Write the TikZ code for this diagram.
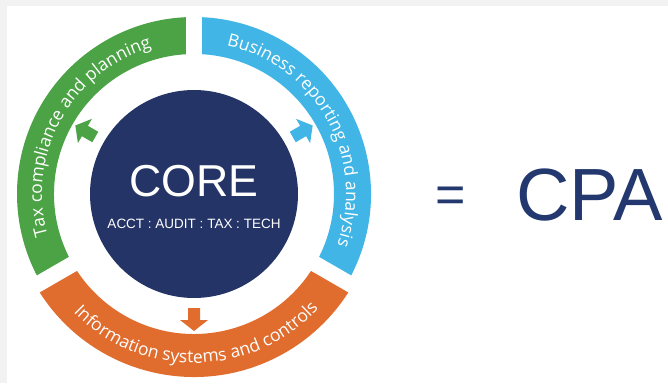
\documentclass[tikz,border=0pt]{standalone}
\usepackage{fontspec}
\setmainfont{Liberation Sans}
\newfontfamily\arcfam{Open Sans}
\usetikzlibrary{decorations.text}
\definecolor{cgreen}{HTML}{4CA346}
\definecolor{cblue}{HTML}{41B6E6}
\definecolor{corange}{HTML}{E06C2E}
\definecolor{cnavy}{HTML}{243467}
\definecolor{cpanavy}{HTML}{23386E}
\definecolor{bggray}{HTML}{F2F2F2}
\newcommand\arcfont{\arcfam\fontsize{17.5}{17.5}\selectfont}
\tikzset{
  blockarrow/.pic={\fill (-12,-6) -- (0,-6) -- (0,-14) -- (11,0) -- (0,14) -- (0,6) -- (-12,6) -- cycle;},
  arctext/.style={decorate, decoration={text along path, text align=center, text color=white}},
  gapline/.style={white, line width=16pt}
}
\begin{document}
\begin{tikzpicture}[x=1pt,y=1pt]
\useasboundingbox (0,0) rectangle (668,383);
\fill[bggray] (0,0) rectangle (668,383);
\fill[white] (7,0) rectangle (668,377);
\begin{scope}[shift={(194,189)}]
  % ring segments
  \fill[cgreen] (90:177) arc[start angle=90,end angle=210,radius=177] -- (210:140) arc[start angle=210,end angle=90,radius=140] -- cycle;
  \fill[cblue] (-30:177) arc[start angle=-30,end angle=90,radius=177] -- (90:140) arc[start angle=90,end angle=-30,radius=140] -- cycle;
  \fill[corange] (210:183) arc[start angle=210,end angle=330,radius=183] -- (330:140) arc[start angle=330,end angle=210,radius=140] -- cycle;
  % gaps
  \coordinate (o) at (0,0);
  \coordinate (g1) at (90:186);
  \coordinate (g2) at (210:190);
  \coordinate (g3) at (330:190);
  \draw[gapline] (o) -- (g1);
  \draw[gapline] (o) -- (g2);
  \draw[gapline] (o) -- (g3);
  % core
  \fill[cnavy] (0,0) circle[radius=104];
  \node[text=white, font=\fontsize{44.7}{44.7}\selectfont, anchor=base, inner sep=0] (core) at (0,-3) {CORE};
  \node[text=white, font=\fontsize{13.5}{13.5}\selectfont, anchor=base, inner sep=0] (sub) at (0,-34) {ACCT : AUDIT : TAX : TECH};
  % arrows
  \pic[cgreen, rotate=150] at (150:126) {blockarrow};
  \pic[cblue, rotate=30] at (30:126) {blockarrow};
  \pic[corange, rotate=270] at (270:126) {blockarrow};
  % arc texts
  \path[arctext, decoration={text={|\arcfont|Tax compliance and planning}}] (211:152) arc[start angle=211,end angle=91,radius=152];
  \path[arctext, decoration={text={|\arcfont|Business reporting and analysis}}] (89:152) arc[start angle=89,end angle=-31,radius=152];
  \path[arctext, decoration={text={|\arcfont|Information systems and controls}}] (211:169) arc[start angle=211,end angle=331,radius=169];
\end{scope}
\node[text=cpanavy, font=\fontsize{52}{52}\selectfont, anchor=base, inner sep=0] (eq) at (451,170.5) {=};
\node[text=cpanavy, font=\fontsize{74}{74}\selectfont, anchor=base, inner sep=0] (cpa) at (589.5,163) {CPA};
\end{tikzpicture}
\end{document}
